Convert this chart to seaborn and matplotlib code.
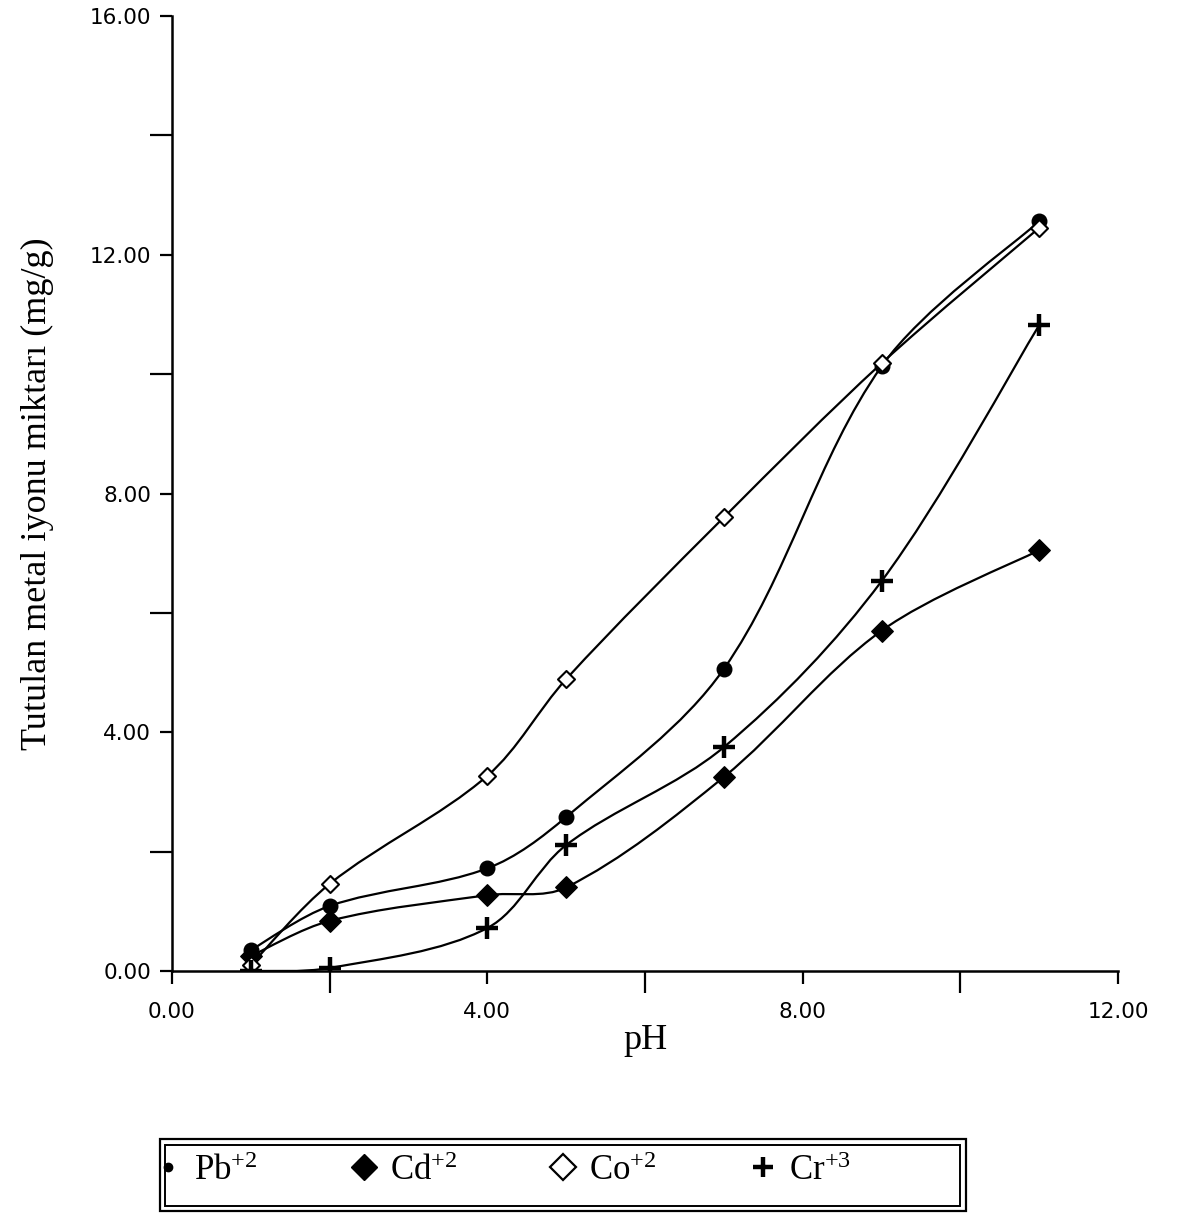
import numpy as np
import matplotlib
matplotlib.use('Agg')
import matplotlib.pyplot as plt
from matplotlib.path import Path
from matplotlib.patches import PathPatch, Rectangle
from matplotlib.lines import Line2D
import seaborn as sns

# pH values and adsorbed metal ion amounts (mg/g)
ph = [1, 2, 4, 5, 7, 9, 11]
pb = [0.35, 1.09, 1.72, 2.58, 5.06, 10.13, 12.56]
cd = [0.25, 0.84, 1.27, 1.40, 3.25, 5.70, 7.05]
co = [0.10, 1.46, 3.27, 4.89, 7.60, 10.18, 12.45]
cr = [0.00, 0.05, 0.72, 2.11, 3.75, 6.53, 10.82]

series_names = ['Pb$^{+2}$', 'Cd$^{+2}$', 'Co$^{+2}$', 'Cr$^{+3}$']

sns.set_style('ticks')
plt.rcParams['font.family'] = ['DejaVu Sans']
plt.rcParams['text.color'] = 'black'
plt.rcParams['axes.labelcolor'] = 'black'
plt.rcParams['mathtext.fontset'] = 'custom'
plt.rcParams['mathtext.rm'] = 'Liberation Serif'
plt.rcParams['mathtext.it'] = 'Liberation Serif'

# pixel size of one data unit, used only to shape the smoothed curves
SX, SY = 79.0, 59.7


def smooth_path(xs, ys):
    # bezier path like excel "smoothed line" (cardinal spline, chord weighted)
    pts = np.column_stack([xs, ys]).astype(float)
    scale = np.array([SX, SY])
    n = len(pts)
    verts = [pts[0]]
    codes = [Path.MOVETO]

    def dist(a, b):
        return np.hypot(*((b - a) * scale))

    for i in range(n - 1):
        p0 = pts[i - 1] if i > 0 else pts[i]
        p1 = pts[i]
        p2 = pts[i + 1]
        p3 = pts[i + 2] if i + 2 < n else pts[i + 1]
        d01, d12, d23 = dist(p0, p1), dist(p1, p2), dist(p2, p3)
        f1 = d12 / (d01 + d12) if d01 > 0 else 0.5
        f2 = d12 / (d12 + d23) if d23 > 0 else 0.5
        c1 = p1 + (p2 - p0) * f1 / 3.0
        c2 = p2 - (p3 - p1) * f2 / 3.0
        verts += [c1, c2, p2]
        codes += [Path.CURVE4] * 3
    return Path(verts, codes)


fig = plt.figure(figsize=(11.84, 12.14), dpi=100)
ax = fig.add_axes([172 / 1184, 1 - 971 / 1214, (1118 - 172) / 1184, (971 - 16) / 1214])

for vals in [pb, cd, co, cr]:
    ax.add_patch(PathPatch(smooth_path(ph, vals), fill=False, lw=1.6, edgecolor='black', zorder=2))

sns.scatterplot(x=ph, y=pb, ax=ax, marker='o', s=110, color='black', edgecolor='black',
                linewidth=1, zorder=3, legend=False)
sns.scatterplot(x=ph, y=cd, ax=ax, marker='D', s=120, color='black', edgecolor='black',
                linewidth=1, zorder=3, legend=False)
sns.scatterplot(x=ph, y=co, ax=ax, marker='D', s=75, color='white', edgecolor='black',
                linewidth=1.5, zorder=3, legend=False)
ax.plot(ph, cr, linestyle='none', marker='+', markersize=16, mew=3.2, color='black', zorder=3)

ax.set_xlim(0, 12)
ax.set_ylim(0, 16)
# labelled ticks are short, the ones between them are long (as in the original)
ax.set_xticks([0, 4, 8, 12])
ax.set_xticklabels(['0.00', '4.00', '8.00', '12.00'])
ax.set_xticks([2, 6, 10], minor=True)
ax.set_yticks([0, 4, 8, 12, 16])
ax.set_yticklabels(['0.00', '4.00', '8.00', '12.00', '16.00'])
ax.set_yticks([2, 6, 10, 14], minor=True)
ax.tick_params(axis='both', which='major', labelsize=15.5, length=9, width=1.6,
               color='black', labelcolor='black')
ax.tick_params(axis='both', which='minor', length=16, width=1.6, color='black')
ax.tick_params(axis='x', which='major', pad=13)
ax.tick_params(axis='y', which='major', pad=6)
sns.despine(ax=ax)
for side in ['left', 'bottom']:
    ax.spines[side].set_linewidth(1.8)
    ax.spines[side].set_color('black')

ax.set_xlabel('pH', fontsize=26, family='Liberation Serif', labelpad=2, color='black')
ax.set_ylabel('Tutulan metal iyonu miktarı (mg/g)', fontsize=26, family='Liberation Serif',
              labelpad=26, color='black')

# legend: frame drawn separately as a double line box
leg_handles = [
    Line2D([], [], linestyle='none', marker='o', markersize=6, color='black'),
    Line2D([], [], linestyle='none', marker='D', markersize=13, color='black'),
    Line2D([], [], linestyle='none', marker='D', markersize=13, markerfacecolor='white',
           markeredgecolor='black', mew=1.6),
    Line2D([], [], linestyle='none', marker='+', markersize=14, mew=3.2, color='black'),
]
leg = fig.legend(leg_handles, series_names, loc='center left', ncol=4,
                 bbox_to_anchor=(158 / 1184, 1 - 1171 / 1214), frameon=False,
                 prop={'family': 'Liberation Serif', 'size': 25}, handletextpad=0.45,
                 borderaxespad=0, borderpad=0, handlelength=0.6, columnspacing=2.75)
for t in leg.get_texts():
    t.set_color('black')

fig.patches.append(Rectangle((160 / 1184, 1 - 1211 / 1214), (966 - 160) / 1184, 72 / 1214,
                             transform=fig.transFigure, fill=False, edgecolor='black', lw=1.6))
fig.patches.append(Rectangle((165 / 1184, 1 - 1206 / 1214), (960 - 165) / 1184, 61 / 1214,
                             transform=fig.transFigure, fill=False, edgecolor='black', lw=1.4))

fig.savefig('out.png', dpi=100, facecolor='white')
